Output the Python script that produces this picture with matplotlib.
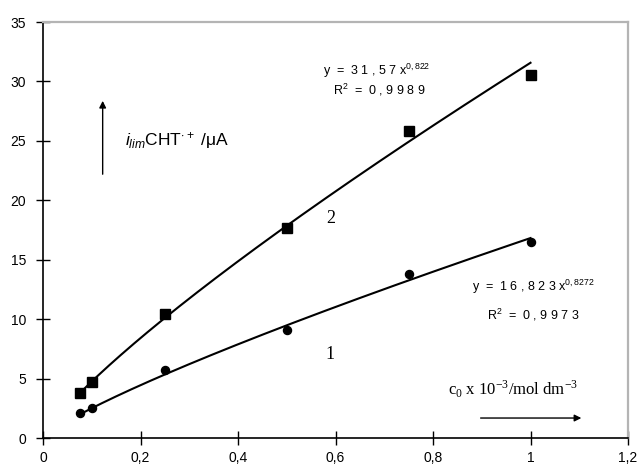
import numpy as np
import matplotlib
matplotlib.use("Agg")
import matplotlib.pyplot as plt

# data
conc = [0.075, 0.1, 0.25, 0.5, 0.75, 1.0]
series2 = [3.8, 4.7, 10.4, 17.7, 25.8, 30.5]
series1 = [2.1, 2.5, 5.7, 9.1, 13.8, 16.5]
fit2 = (31.57, 0.822)
fit1 = (16.823, 0.8272)
xticks = [0, 0.2, 0.4, 0.6, 0.8, 1.0, 1.2]
xticklabels = ["0", "0,2", "0,4", "0,6", "0,8", "1", "1,2"]
yticks = [0, 5, 10, 15, 20, 25, 30, 35]

plt.rcParams['font.family'] = ['Liberation Sans', 'DejaVu Sans']
plt.rcParams['mathtext.fontset'] = 'custom'
plt.rcParams['mathtext.rm'] = 'Liberation Serif'
plt.rcParams['mathtext.it'] = 'Liberation Sans:italic'
plt.rcParams['mathtext.sf'] = 'Liberation Sans'

fig = plt.figure(figsize=(6.38, 4.67), dpi=100)
ax = fig.add_axes([43/638, 29/467, 585/638, 416/467])

xf = np.linspace(min(conc), max(conc), 200)
ax.plot(xf, fit2[0] * xf ** fit2[1], color='black', lw=1.5)
ax.plot(xf, fit1[0] * xf ** fit1[1], color='black', lw=1.5)
ax.plot(conc, series2, 's', color='black', ms=6.7, zorder=3)
ax.plot(conc, series1, 'o', color='black', ms=5.8, zorder=3)

ax.set_xlim(0, 1.2)
ax.set_ylim(0, 35)
ax.set_xticks(xticks)
ax.set_xticklabels(xticklabels)
ax.set_yticks(yticks)
ax.set_yticklabels([str(t) for t in yticks])
ax.tick_params(direction='inout', length=10, width=1, labelsize=10)
ax.tick_params(axis='x', pad=4)
ax.tick_params(axis='y', pad=7)
for s in ['left', 'bottom']:
    ax.spines[s].set_color('black')
    ax.spines[s].set_linewidth(1.2)
for s in ['top', 'right']:
    ax.spines[s].set_color('#b4b4b4')
    ax.spines[s].set_linewidth(1.6)

# equations
ax.text(0.685, 30.54, r"y  =  3 1 , 5 7 x$^{\mathsf{0,822}}$", ha='center', va='baseline', fontsize=9)
ax.text(0.69, 28.9, r"R$^{\mathsf{2}}$  =  0 , 9 9 8 9", ha='center', va='baseline', fontsize=9)
ax.text(1.005, 12.39, r"y  =  1 6 , 8 2 3 x$^{\mathsf{0,8272}}$", ha='center', va='baseline', fontsize=9)
ax.text(1.005, 9.93, r"R$^{\mathsf{2}}$  =  0 , 9 9 7 3", ha='center', va='baseline', fontsize=9)

# curve labels
ax.text(0.591, 18.5, "2", fontsize=13, family='Liberation Serif', ha='center', va='center')
ax.text(0.589, 7.0, "1", fontsize=13, family='Liberation Serif', ha='center', va='center')

# y label with arrow
ax.annotate("", xy=(0.1224, 28.6), xytext=(0.1224, 21.96),
            arrowprops=dict(arrowstyle='-|>', color='black', lw=1, mutation_scale=10))
ax.text(0.168, 24.65, r"$i_{lim}$CHT$^{\mathsf{\cdot+}}$ /μA", fontsize=12.5, ha='left', va='baseline')

# x label with arrow
ax.text(0.831, 3.62, r"c$_0$ x 10$^{-3}$/mol dm$^{-3}$", fontsize=12,
        family='Liberation Serif', ha='left', va='baseline')
ax.annotate("", xy=(1.11, 1.68), xytext=(0.892, 1.68),
            arrowprops=dict(arrowstyle='-|>', color='black', lw=1, mutation_scale=10))

fig.savefig("out.png", dpi=100)
